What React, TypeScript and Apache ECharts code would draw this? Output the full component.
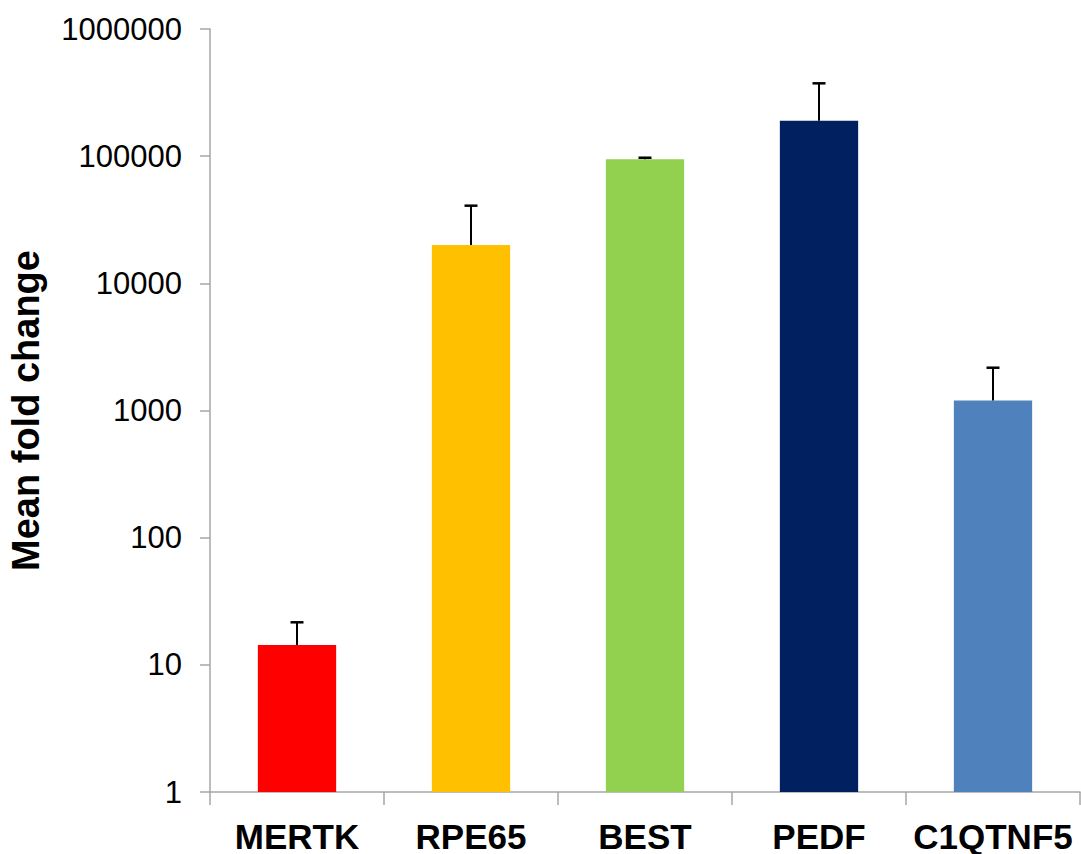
import React, { useEffect, useRef } from "react";
import * as echarts from "echarts";

const categories = ["MERTK", "RPE65", "BEST", "PEDF", "C1QTNF5"];
const meanValues = [14.3, 20000, 94500, 190000, 1200];
const errorUpper = [21.6, 40800, 97200, 374000, 2170];
const barColors = ["#FF0000", "#FFC000", "#92D050", "#002060", "#4F81BD"];

export default function App() {
  const ref = useRef<HTMLDivElement>(null);
  useEffect(() => {
    const chart = echarts.init(ref.current!, null, { renderer: "svg" });
    chart.setOption({
      animation: false,
      backgroundColor: "#ffffff",
      grid: { left: 210, right: 1, top: 29, bottom: 62, containLabel: false, outerBoundsMode: "none" },
      xAxis: {
        type: "category",
        data: categories,
        boundaryGap: true,
        axisLine: { lineStyle: { color: "#A6A6A6", width: 1.5 } },
        axisTick: { show: true, length: 13, lineStyle: { color: "#A6A6A6", width: 1.5 } },
        axisLabel: {
          interval: 0,
          color: "#000",
          fontFamily: "Liberation Sans, Arial, sans-serif",
          fontWeight: "bold",
          fontSize: 35,
          lineHeight: 32,
          margin: 28,
        },
      },
      yAxis: {
        type: "log",
        logBase: 10,
        min: 1,
        max: 1000000,
        splitLine: { show: false },
        axisLine: { show: true, lineStyle: { color: "#A6A6A6", width: 1.5 } },
        axisTick: { show: true, length: 10, lineStyle: { color: "#A6A6A6", width: 1.5 } },
        axisLabel: {
          color: "#000",
          fontFamily: "Liberation Sans, Arial, sans-serif",
          fontSize: 31,
          margin: 28,
          formatter: (v: number) => String(Math.round(v)),
        },
        name: "Mean fold change",
        nameLocation: "middle",
        nameRotate: 90,
        nameGap: 165,
        nameTextStyle: {
          color: "#000",
          fontFamily: "Liberation Sans, Arial, sans-serif",
          fontWeight: "bold",
          fontSize: 38,
        },
      },
      series: [
        {
          type: "bar",
          barWidth: "45%",
          data: meanValues.map((v, i) => ({ value: v, itemStyle: { color: barColors[i] } })),
          z: 2,
        },
        {
          type: "custom",
          z: 3,
          data: categories.map((c, i) => [i, meanValues[i], errorUpper[i]]),
          renderItem: (params: any, api: any) => {
            const base = api.coord([api.value(0), api.value(1)]);
            const top = api.coord([api.value(0), api.value(2)]);
            const half = 6.5;
            return {
              type: "group",
              children: [
                {
                  type: "line",
                  shape: { x1: base[0], y1: base[1], x2: top[0], y2: top[1] },
                  style: { stroke: "#000", lineWidth: 2 },
                },
                {
                  type: "line",
                  shape: { x1: top[0] - half, y1: top[1], x2: top[0] + half, y2: top[1] },
                  style: { stroke: "#000", lineWidth: 2.5 },
                },
              ],
            };
          },
        },
      ],
    });
    return () => chart.dispose();
  }, []);
  return (
    <div
      ref={ref}
      style={{ position: "fixed", left: 0, top: 0, width: 1081, height: 854, background: "#fff" }}
    />
  );
}
